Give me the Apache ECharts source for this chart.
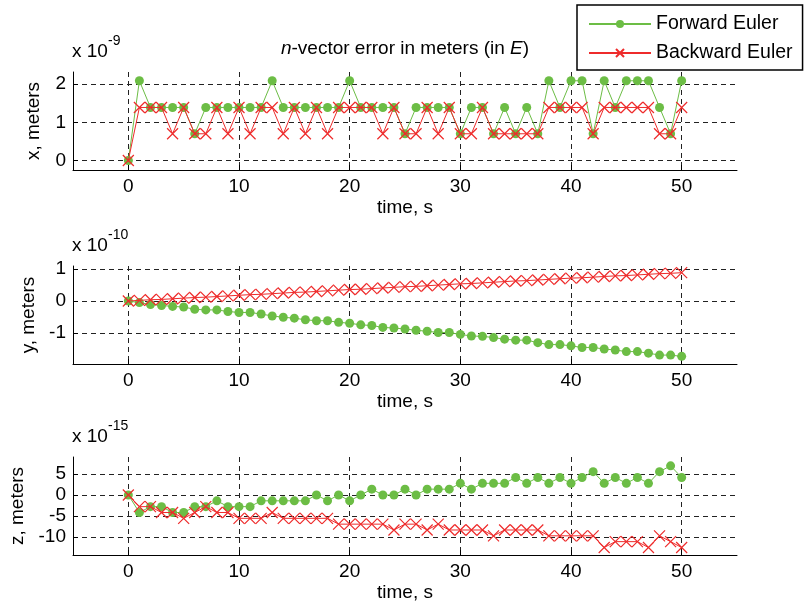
<!DOCTYPE html>
<html><head><meta charset="utf-8">
<script src="https://cdn.jsdelivr.net/npm/echarts@6/dist/echarts.min.js"></script>
<style>html,body{margin:0;padding:0;background:#fff}#c{width:805px;height:609px}</style>
</head><body><div id="c"></div>
<script>
// ---- data ----
const time = [0,1,2,3,4,5,6,7,8,9,10,11,12,13,14,15,16,17,18,19,20,21,22,23,24,25,26,27,28,29,30,31,32,33,34,35,36,37,38,39,40,41,42,43,44,45,46,47,48,49,50];
const timeTicks = [0,10,20,30,40,50];
const seriesNames = ['Forward Euler','Backward Euler'];

// x error, units 1e-9 m
const xForward = [0,2.09,1.39,1.39,1.39,1.39,0.70,1.39,1.39,1.39, 1.39,1.39,1.39,2.09,1.39,1.39,1.39,1.39,1.39,1.39, 2.09,1.39,1.39,1.39,1.39,0.70,1.39,1.39,1.39,1.39, 0.70,1.39,1.39,0.70,1.39,0.70,1.39,0.70,2.09,1.39, 2.09,2.09,0.70,2.09,1.39,2.09,2.09,2.09,1.39,0.70,2.09];
const xBackward = [0,1.39,1.39,1.39,0.70,1.39,0.70,0.70,1.39,0.70, 1.39,0.70,1.39,1.39,0.70,1.39,0.70,1.39,0.70,1.39, 1.39,1.39,1.39,0.70,1.39,0.70,0.70,1.39,0.70,1.39, 0.70,0.70,1.39,0.70,0.70,0.70,0.70,0.70,1.39,1.39, 1.39,1.39,0.70,1.39,1.39,1.39,1.39,1.39,0.70,0.70,1.39];
const xTicks = [0,1,2];

// y error, units 1e-10 m
const yForward = [0,-0.05,-0.11,-0.14,-0.17,-0.19,-0.26,-0.28,-0.28,-0.33, -0.36,-0.36,-0.41,-0.47,-0.51,-0.54,-0.59,-0.62,-0.62,-0.67, -0.70,-0.75,-0.77,-0.83,-0.85,-0.88,-0.92,-0.95,-0.99,-0.99, -1.05,-1.10,-1.11,-1.15,-1.20,-1.23,-1.23,-1.31,-1.37,-1.37, -1.41,-1.46,-1.46,-1.51,-1.54,-1.59,-1.59,-1.64,-1.70,-1.70,-1.74];
const yBackward = [0,0.02,0.04,0.05,0.07,0.09,0.11,0.12,0.14,0.16, 0.18,0.20,0.21,0.23,0.25,0.27,0.28,0.30,0.32,0.34, 0.36,0.37,0.39,0.41,0.43,0.45,0.46,0.48,0.50,0.52, 0.54,0.55,0.57,0.59,0.61,0.63,0.64,0.66,0.68,0.70, 0.72,0.73,0.75,0.77,0.79,0.80,0.82,0.84,0.86,0.87,0.89];
const yTicks = [-1,0,1];

// z error, units 1e-15 m
const zForward = [0,-4.17,-2.78,-2.78,-4.17,-4.17,-2.78,-2.78,-1.39,-2.78, -2.78,-2.78,-1.39,-1.39,-1.39,-1.39,-1.39,0,-1.39,0, -1.39,0,1.39,0,0,1.39,0,1.39,1.39,1.39, 2.78,1.39,2.78,2.78,2.78,4.17,2.78,4.17,2.78,4.17, 2.78,4.17,5.56,2.78,4.17,2.78,4.17,2.78,5.56,6.95,4.17];
const zBackward = [0,-2.78,-2.78,-4.17,-4.17,-5.56,-4.17,-2.78,-4.17,-4.17, -5.56,-5.56,-5.56,-4.17,-5.56,-5.56,-5.56,-5.56,-5.56,-6.95, -6.95,-6.95,-6.95,-6.95,-8.34,-6.95,-6.95,-8.34,-6.95,-8.34, -8.34,-8.34,-8.34,-9.73,-8.34,-8.34,-8.34,-8.34,-9.73,-9.73, -9.73,-9.73,-9.73,-12.51,-11.12,-11.12,-11.12,-12.51,-9.73,-11.12,-12.51];
const zTicks = [-10,-5,0,5];

// ---- chart ----
const FONT = '"Liberation Sans", Arial, Helvetica, sans-serif';
const GREEN = '#6cbd45', RED = '#ee2b2b';
const FS = 19;
const panels = [
  {fwd:xForward, bwd:xBackward, ticks:xTicks, name:'x, meters', min:-0.25, max:2.32, step:1, top:72, gap:30, exp:'-9'},
  {fwd:yForward, bwd:yBackward, ticks:yTicks, name:'y, meters', min:-1.98, max:1.1, step:1, top:266, gap:35, exp:'-10'},
  {fwd:zForward, bwd:zBackward, ticks:zTicks, name:'z, meters', min:-14.3, max:9.05, step:5, top:457, gap:45, exp:'-15'}
];
const pair = arr => time.map((t,i)=>[t, arr[i]]);
const dash = {type:[5,4], color:'#222', width:1};

const grids = [], xAxes = [], yAxes = [], series = [], graphics = [];
panels.forEach((p, i) => {
  grids.push({left:73, width:664, top:p.top, height:98, containLabel:false});
  xAxes.push({
    type:'value', gridIndex:i, min:-5, max:55, minInterval:10, maxInterval:10,
    axisLine:{show:true, onZero:false, lineStyle:{color:'#000', width:1}},
    axisTick:{show:true, inside:true, length:5, customValues:timeTicks, lineStyle:{color:'#000'}},
    axisLabel:{customValues:timeTicks, color:'#000', fontSize:FS, fontFamily:FONT, margin:7},
    splitLine:{show:true, lineStyle:dash},
    name:'time, s', nameLocation:'middle', nameGap:28,
    nameTextStyle:{color:'#000', fontSize:FS, fontFamily:FONT}
  });
  yAxes.push({
    type:'value', gridIndex:i, min:p.min, max:p.max, minInterval:p.step, maxInterval:p.step,
    axisLine:{show:true, onZero:false, lineStyle:{color:'#000', width:1}},
    axisTick:{show:true, inside:true, length:5, customValues:p.ticks, lineStyle:{color:'#000'}},
    axisLabel:{customValues:p.ticks, color:'#000', fontSize:FS, fontFamily:FONT, margin:7},
    splitLine:{show:true, lineStyle:dash},
    name:p.name, nameLocation:'middle', nameGap:p.gap, nameRotate:90,
    nameTextStyle:{color:'#000', fontSize:FS, fontFamily:FONT}
  });
  series.push({
    name:seriesNames[0], type:'line', xAxisIndex:i, yAxisIndex:i, data:pair(p.fwd),
    symbol:'circle', symbolSize:9, showAllSymbol:true, color:GREEN,
    lineStyle:{color:GREEN, width:1}, itemStyle:{color:GREEN},
    emphasis:{disabled:true}, z:2
  });
  series.push({
    name:seriesNames[1], type:'line', xAxisIndex:i, yAxisIndex:i, data:pair(p.bwd),
    symbol:'path://M0,0L10,10M10,0L0,10', symbolSize:11, showAllSymbol:true, color:RED,
    lineStyle:{color:RED, width:1}, itemStyle:{color:RED, borderColor:RED, borderWidth:1.2},
    emphasis:{disabled:true}, z:3
  });
  graphics.push({type:'text', x:72, y:p.top-20, style:{text:'x 10', fontSize:FS, fontFamily:FONT, fill:'#000', textVerticalAlign:'middle'}});
  graphics.push({type:'text', x:108, y:p.top-31, style:{text:p.exp, fontSize:14, fontFamily:FONT, fill:'#000', textVerticalAlign:'middle'}});
});
graphics.push({type:'text', x:405, y:49, style:{
  text:'{i|n}-vector error in meters (in {i|E})', textAlign:'center', textVerticalAlign:'middle',
  fontSize:FS, fontFamily:FONT, fill:'#000',
  rich:{i:{fontStyle:'italic', fontSize:FS, fontFamily:FONT, fill:'#000'}}
}});

const chart = echarts.init(document.getElementById('c'));
chart.setOption({
  animation:false,
  backgroundColor:'#fff',
  grid:grids, xAxis:xAxes, yAxis:yAxes, series:series,
  legend:{
    data:seriesNames, orient:'vertical', left:577, top:5,
    backgroundColor:'#fff', borderColor:'#000', borderWidth:1.5,
    padding:[9,10,7,11], itemWidth:62, itemHeight:10, itemGap:9,
    textStyle:{color:'#000', fontSize:19.5, fontFamily:FONT}
  },
  graphic:graphics
});
</script></body></html>
